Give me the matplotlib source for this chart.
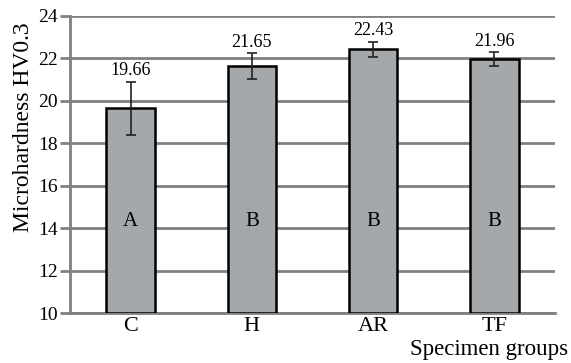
import matplotlib.pyplot as plt
import numpy as np

groups = ['C', 'H', 'AR', 'TF']
means = [19.66, 21.65, 22.43, 21.96]
errors = [1.25, 0.6, 0.35, 0.32]
letters = ['A', 'B', 'B', 'B']

plt.rcParams['font.family'] = ['Liberation Serif', 'DejaVu Serif']

fig = plt.figure(figsize=(5.71, 3.63), dpi=100)
ax = fig.add_axes([70 / 571, 1 - 313 / 363, 485 / 571, 297 / 363])

x = np.arange(len(groups))
ax.bar(x, np.array(means) - 10, bottom=10, width=0.4, color='#a5a8aa',
       edgecolor='black', linewidth=1.8, zorder=3)
ax.errorbar(x, means, yerr=errors, fmt='none', ecolor='#222222',
            elinewidth=1.2, capsize=3.5, capthick=1.2, zorder=4)

for xi, m, e, lt in zip(x, means, errors, letters):
    ax.text(xi, m + e + 0.12, f'{m:.2f}', ha='center', va='bottom', fontsize=13)
    ax.text(xi, 14.3, lt, ha='center', va='center', fontsize=15)

ax.set_xlim(-0.5, 3.5)
ax.set_ylim(10, 24)
ax.set_yticks(np.arange(10, 25, 2))
ax.set_xticks(x)
ax.set_xticklabels(groups, fontsize=16)
ax.tick_params(axis='y', labelsize=14, length=7, width=2, color='#808080', pad=2)
ax.tick_params(axis='x', length=0, pad=3)
ax.yaxis.grid(True, color='#808080', linewidth=2, zorder=0)
ax.set_axisbelow(True)
for s in ['top', 'right']:
    ax.spines[s].set_visible(False)
ax.spines['left'].set_color('#808080')
ax.spines['left'].set_linewidth(2)
ax.spines['bottom'].set_color('#808080')
ax.spines['bottom'].set_linewidth(2)

ax.set_ylabel('Microhardness HV0.3', fontsize=17, va='center')
ax.yaxis.set_label_coords(-0.095, 0.625)
fig.text(568 / 571, 1 - 349 / 363, 'Specimen groups', ha='right', va='center', fontsize=16.5)

fig.savefig('out.png', dpi=100)
